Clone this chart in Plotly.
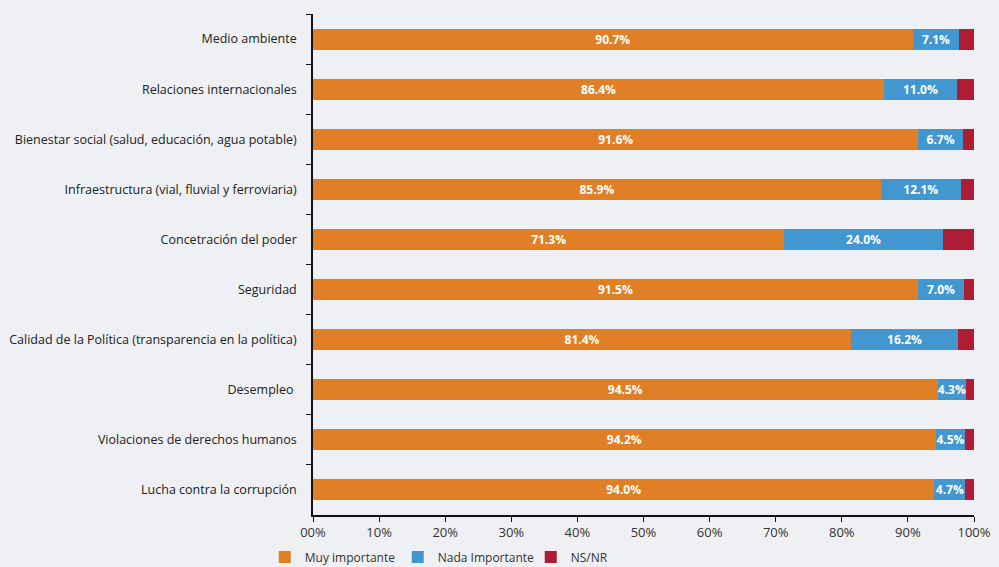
import plotly.graph_objects as go

# ── Data ───────────────────────────────────────────────────────────────────────
categories = [
    "Medio ambiente",
    "Relaciones internacionales",
    "Bienestar social (salud, educación, agua potable)",
    "Infraestructura (vial, fluvial y ferroviaria)",
    "Concetración del poder",
    "Seguridad",
    "Calidad de la Política (transparencia en la política)",
    "Desempleo ",
    "Violaciones de derechos humanos",
    "Lucha contra la corrupción",
]
muy_importante = [90.7, 86.4, 91.6, 85.9, 71.3, 91.5, 81.4, 94.5, 94.2, 94.0]
nada_importante = [7.1, 11.0, 6.7, 12.1, 24.0, 7.0, 16.2, 4.3, 4.5, 4.7]
ns_nr = [2.2, 2.6, 1.7, 2.0, 4.7, 1.5, 2.4, 1.2, 1.3, 1.3]

x_ticks = [0, 10, 20, 30, 40, 50, 60, 70, 80, 90, 100]
x_tick_labels = ["00%", "10%", "20%", "30%", "40%", "50%", "60%", "70%", "80%", "90%", "100%"]

# ── Style ──────────────────────────────────────────────────────────────────────
COLORS = {"muy": "#E07F26", "nada": "#4397D1", "ns": "#AE1C35"}
FONT = "Open Sans, sans-serif"

fig = go.Figure()
series = [
    ("Muy importante", muy_importante, COLORS["muy"], True),
    ("Nada Importante", nada_importante, COLORS["nada"], True),
    ("NS/NR", ns_nr, COLORS["ns"], False),
]
for name, vals, color, labelled in series:
    fig.add_trace(go.Bar(
        x=vals, y=categories, orientation="h", name=name,
        marker=dict(color=color, line=dict(width=0)),
        text=[f"{v:.1f}%" for v in vals] if labelled else None,
        textposition="inside" if labelled else "none",
        insidetextanchor="middle",
        constraintext="none",
        textfont=dict(family=FONT, size=12, color="white", weight="bold"),
        hoverinfo="x+y+name",
    ))

fig.update_layout(
    barmode="stack",
    bargap=0.58,
    width=999, height=567,
    paper_bgcolor="#eef0f4",
    plot_bgcolor="rgba(0,0,0,0)",
    font=dict(family=FONT, size=12, color="#222"),
    margin=dict(l=313, r=25, t=14, b=52, autoexpand=False),
    xaxis=dict(
        range=[0, 100], tickvals=x_ticks, ticktext=x_tick_labels,
        showgrid=False, zeroline=False,
        showline=True, linecolor="#111", linewidth=1.5,
        ticks="outside", ticklen=5, tickcolor="#111",
        tickfont=dict(size=13, color="#333"),
    ),
    yaxis=dict(
        autorange="reversed", showgrid=False,
        showline=True, linecolor="#111", linewidth=1.5,
        ticks="outside", ticklen=5, tickcolor="#111", tickson="boundaries",
        ticklabelstandoff=12,
        tickfont=dict(size=12.5, color="#222"),
    ),
    legend=dict(
        orientation="h", x=-0.073, xanchor="left", y=-0.084, yanchor="middle",
        bgcolor="rgba(0,0,0,0)", font=dict(size=12, color="#333"),
        entrywidth=88, entrywidthmode="pixels", traceorder="normal",
    ),
)

# page body has a default 8px margin; drop it so the figure fills the window
fig.write_html(
    "out.html",
    config={"displayModeBar": False},
    post_script="document.body.style.margin='0';",
)
